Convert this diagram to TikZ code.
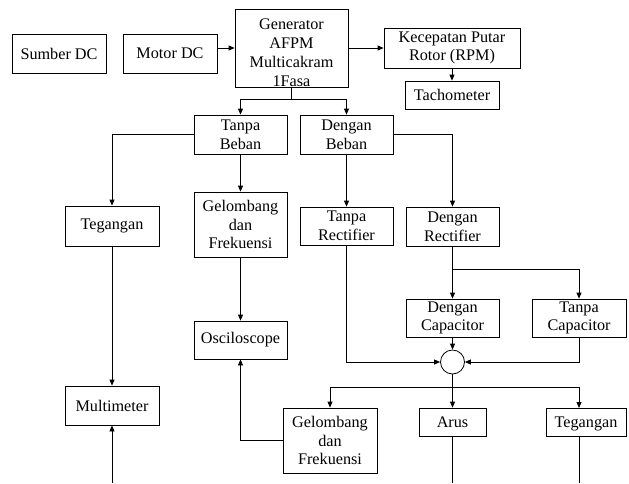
\documentclass[tikz,border=0pt]{standalone}
\usepackage{fontspec}
\setmainfont{Liberation Serif}
\usetikzlibrary{arrows.meta}
\tikzset{
  bx/.style={draw, line width=0.8pt, inner sep=0pt, align=center, font=\fontsize{16.2}{18.6}\selectfont},
  txt/.style={inner sep=0pt, align=center, font=\fontsize{16.2}{19}\selectfont},
  low/.style={text depth=0pt},
  arr/.style={line width=0.8pt, -{Triangle[length=6pt,width=5pt]}},
  ln/.style={line width=0.8pt}
}
\begin{document}
\begin{tikzpicture}[x=1pt,y=-1pt]
\useasboundingbox (0,0) rectangle (629,483);
\node[bx, minimum width=94, minimum height=39] (sumber) at (59,53.5) {Sumber DC};
\node[bx, minimum width=94, minimum height=39] (motor) at (170,53.5) {Motor DC};
\node[bx, minimum width=113, minimum height=78] (gen) at (291.5,48) {};
\node[txt] (gentext) at (291.5,53) {Generator\\AFPM\\Multicakram\\1Fasa};
\node[bx, minimum width=136, minimum height=40] (kec) at (452,48) {Kecepatan Putar\\Rotor (RPM)};
\node[bx, low, minimum width=94, minimum height=28] (tach) at (452,95) {Tachometer};
\node[bx, minimum width=93, minimum height=39] (tb) at (240.5,134.5) {Tanpa\\Beban};
\node[bx, minimum width=93, minimum height=39] (db) at (346.5,134.5) {Dengan\\Beban};
\node[bx, minimum width=94, minimum height=40] (teg1) at (112,226) {Tegangan};
\node[bx, minimum width=93, minimum height=65] (gel1) at (240.5,224.5) {Gelombang\\dan\\Frekuensi};
\node[bx, minimum width=93, minimum height=38] (tr) at (346.5,226) {Tanpa\\Rectifier};
\node[bx, minimum width=93, minimum height=39] (dr) at (452.5,226.5) {Dengan\\Rectifier};
\node[bx, minimum width=93, minimum height=38] (osc) at (240.5,340) {Osciloscope};
\node[bx, minimum width=93, minimum height=38] (dc) at (452.5,318) {Dengan\\Capacitor};
\node[bx, minimum width=94, minimum height=38] (tc) at (579,318) {Tanpa\\Capacitor};
\node[draw, line width=0.8pt, circle, minimum size=24, inner sep=0pt] (circ) at (452.5,362) {};
\node[bx, minimum width=94, minimum height=39] (multi) at (112,405.5) {Multimeter};
\node[bx, minimum width=94, minimum height=65] (gel2) at (330,440.5) {Gelombang\\dan\\Frekuensi};
\node[bx, low, minimum width=67, minimum height=28] (arus) at (452.5,422) {Arus};
\node[bx, low, minimum width=80, minimum height=28] (teg2) at (586,422) {Tegangan};
\coordinate (split1) at (291.5,99);
\coordinate (split2) at (452.5,269);
\coordinate (split3) at (452.5,387);
\coordinate (mbot) at (112,483);
\coordinate (abot) at (452.5,483);
\coordinate (tbot) at (579,483);
\coordinate (t2top) at (579,408);
\coordinate (t2bot) at (579,436);
% connectors
\draw[arr] (motor.east |- kec.west) -- (gen.west |- kec.west);
\draw[arr] (gen.east) -- (kec.west);
\draw[arr] (kec.south) -- (tach.north);
\draw[ln] (gen.south) -- (split1);
\draw[arr] (split1) -| (tb.north);
\draw[arr] (split1) -| (db.north);
\draw[arr] (tb.west) -| (teg1.north);
\draw[arr] (tb.south) -- (gel1.north);
\draw[arr] (gel1.south) -- (osc.north);
\draw[arr] (teg1.south) -- (multi.north);
\draw[arr] (mbot) -- (multi.south);
\draw[arr] (db.south) -- (tr.north);
\draw[arr] (db.east) -| (dr.north);
\draw[arr] (dr.south) -- (dc.north);
\draw[arr] (split2) -| (tc.north);
\draw[arr] (dc.south) -- (circ.north);
\draw[arr] (tr.south) |- (circ.west);
\draw[arr] (tc.south) |- (circ.east);
\draw[ln] (circ.south) -- (split3);
\draw[arr] (split3) -| (gel2.north);
\draw[arr] (split3) -- (arus.north);
\draw[arr] (split3) -| (t2top);
\draw[arr] (gel2.west) -| (osc.south);
\draw[ln] (arus.south) -- (abot);
\draw[ln] (t2bot) -- (tbot);
\end{tikzpicture}
\end{document}
